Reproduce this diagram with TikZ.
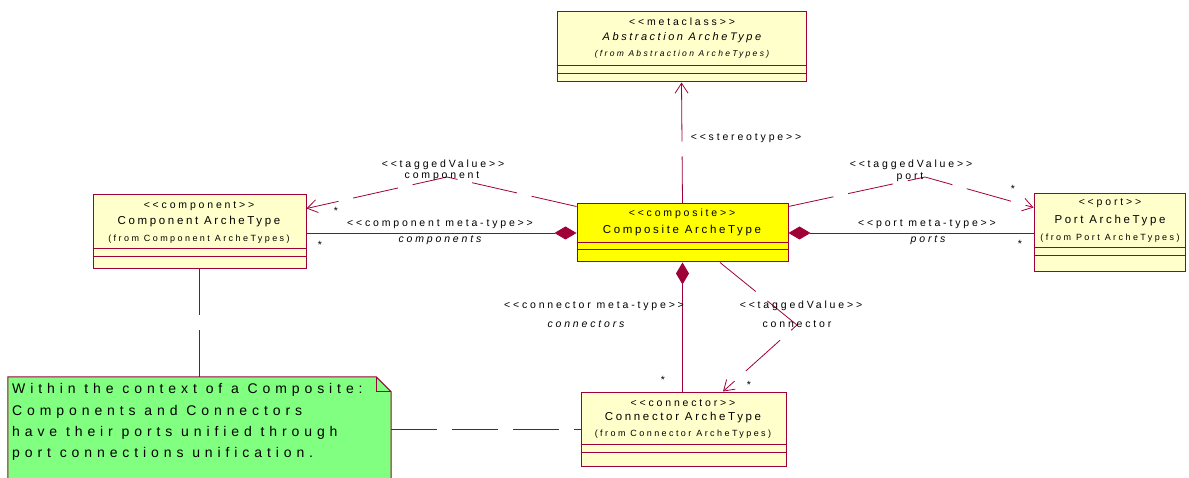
\documentclass[tikz,border=0pt]{standalone}
\usepackage{fontspec}
\newfontfamily\umlfont{Liberation Sans}[LetterSpace=27]
\newfontfamily\namefont{Liberation Sans}[LetterSpace=23]
\newfontfamily\notefont{Liberation Sans}[LetterSpace=35]
\usetikzlibrary{arrows.meta,calc}

\definecolor{umlline}{RGB}{160,0,56}
\definecolor{classfill}{RGB}{255,255,204}
\definecolor{compfill}{RGB}{255,255,0}
\definecolor{notefill}{RGB}{128,255,128}

\tikzset{
  classbox/.style={draw=umlline, line width=1pt, fill=classfill, rectangle, inner sep=0pt},
  stereo/.style={font=\umlfont\fontsize{10.5}{12}\selectfont, inner sep=0pt},
  cname/.style={font=\namefont\fontsize{11.5}{12}\selectfont, inner sep=0pt},
  cfrom/.style={font=\umlfont\fontsize{9}{10}\selectfont, inner sep=0pt},
  lbl/.style={font=\umlfont\fontsize{10.5}{12}\selectfont, inner sep=0pt},
  ilbl/.style={font=\umlfont\itshape\fontsize{10.5}{12}\selectfont, inner sep=0pt},
  link/.style={draw=umlline, line width=0.8pt},
  dashlink/.style={link, dash pattern=on 46pt off 15pt},
  openhead/.style={-{Straight Barb[length=10pt,width=13pt,line width=0.8pt]}},
  composes/.style={{Diamond[length=22pt,width=13pt,fill=umlline]}-},
  compartment/.style={draw=umlline, line width=0.8pt},
}

\begin{document}
\begin{tikzpicture}[x=1pt,y=-1pt]
\useasboundingbox (0,0) rectangle (1189,478);
\clip (0,0) rectangle (1189,478);

% class boxes
\node[classbox, minimum width=249pt, minimum height=70pt] (abs) at (681.5,47) {};
\node[classbox, minimum width=213pt, minimum height=74pt] (cmp) at (199.5,232) {};
\node[classbox, fill=compfill, minimum width=211pt, minimum height=58pt] (comp) at (682.5,233) {};
\node[classbox, minimum width=151pt, minimum height=78pt] (port) at (1109.5,233) {};
\node[classbox, minimum width=205pt, minimum height=74pt] (conn) at (683.5,429) {};

% attribute / operation compartments
\foreach \b/\u/\v in {abs/17/9, cmp/21/13, comp/20/13, port/25/17, conn/22/14} {
  \draw[compartment] ([yshift=\u pt]\b.south west) -- ([yshift=\u pt]\b.south east);
  \draw[compartment] ([yshift=\v pt]\b.south west) -- ([yshift=\v pt]\b.south east);
}

% class texts
\node[stereo] (absst) at (682,22) {<<metaclass>>};
\node[stereo, font=\namefont\itshape\fontsize{11}{12}\selectfont] (absnm) at (682,38) {Abstraction ArcheType};
\node[cfrom, font=\umlfont\itshape\fontsize{8.5}{10}\selectfont] (absfr) at (682,54) {(from Abstraction ArcheTypes)};

\node[stereo] (cmpst) at (199,206) {<<component>>};
\node[cname] (cmpnm) at (199,222) {Component ArcheType};
\node[cfrom] (cmpfr) at (199,239) {(from Component ArcheTypes)};

\node[stereo] (compst) at (682,214) {<<composite>>};
\node[cname] (compnm) at (682,231) {Composite ArcheType};

\node[stereo] (portst) at (1110,203) {<<port>>};
\node[cname] (portnm) at (1110,221) {Port ArcheType};
\node[cfrom] (portfr) at (1110,238) {(from Port ArcheTypes)};

\node[stereo] (connst) at (683,403) {<<connector>>};
\node[cname] (connnm) at (683,418) {Connector ArcheType};
\node[cfrom] (connfr) at (683,434) {(from Connector ArcheTypes)};

% note with folded corner
\node[minimum width=383pt, minimum height=113pt, inner sep=0pt] (note) at (199.5,433.5) {};
\draw[draw=umlline, line width=1pt, fill=notefill]
  (note.north west) -- ([xshift=-15pt]note.north east) -- ([yshift=-15pt]note.north east)
  -- (note.south east) -- (note.south west) -- cycle;
\draw[draw=umlline, line width=0.8pt]
  ([xshift=-15pt]note.north east) -- ([xshift=-15pt,yshift=-15pt]note.north east)
  -- ([yshift=-15pt]note.north east);
\node[font=\notefont\fontsize{14}{21.3}\selectfont, align=left, anchor=north west, inner sep=0pt]
  (notetext) at (12,383.5)
  {Within the context of a Composite:\\Components and Connectors\\have their ports unified through\\port connections unification.};

% waypoints of the tagged-value links
\coordinate (tvc) at (447,177);
\coordinate (tvp) at (925,177);
\coordinate (tvn) at (797,325);

% connectors
\draw[link, dash pattern=on 47pt off 15pt on 80pt, openhead] (comp.north) -- (abs.south);
\draw[dashlink, openhead] ([yshift=-3pt]comp.north west) -- (tvc) -- ([yshift=-14pt]cmp.north east);
\draw[link, composes] (comp.west) -- (comp.west -| cmp.east);
\draw[link, composes] (comp.east) -- (comp.east -| port.west);
\draw[dashlink, openhead] ([yshift=-3pt]comp.north east) -- (tvp) -- ([yshift=-14pt]port.north west);
\draw[link, composes] (comp.south) -- (comp.south |- conn.north);
\draw[dashlink, openhead] ([xshift=37.5pt]comp.south) -- (tvn) -- ([xshift=39.5pt]conn.north);
\draw[dashlink] (cmp.south) -- (cmp.south |- note.north);
\draw[dashlink] (conn.west -| note.east) -- (conn.west);

% connector labels
\node[lbl] (lstereo) at (746,138) {<<stereotype>>};
\node[lbl] (ltvc1) at (443,165) {<<taggedValue>>};
\node[lbl] (ltvc2) at (442,176) {component};
\node[lbl] (lcmt) at (440,224) {<<component meta-type>>};
\node[ilbl] (lcmr) at (440,240) {components};
\node[lbl] (ltvp1) at (911,165) {<<taggedValue>>};
\node[lbl] (ltvp2) at (910,177) {port};
\node[lbl] (lpmt) at (927,224) {<<port meta-type>>};
\node[ilbl] (lpmr) at (928,240) {ports};
\node[lbl] (lnmt) at (594,306) {<<connector meta-type>>};
\node[ilbl] (lnmr) at (586,324) {connectors};
\node[lbl] (ltvn1) at (801,306) {<<taggedValue>>};
\node[lbl] (ltvn2) at (797,324) {connector};

% multiplicities
\node[lbl] (m1) at (336,211) {*};
\node[lbl] (m2) at (320,245) {*};
\node[lbl] (m3) at (1013,189) {*};
\node[lbl] (m4) at (1020,244) {*};
\node[lbl] (m5) at (663,380) {*};
\node[lbl] (m6) at (749,385) {*};
\end{tikzpicture}
\end{document}
